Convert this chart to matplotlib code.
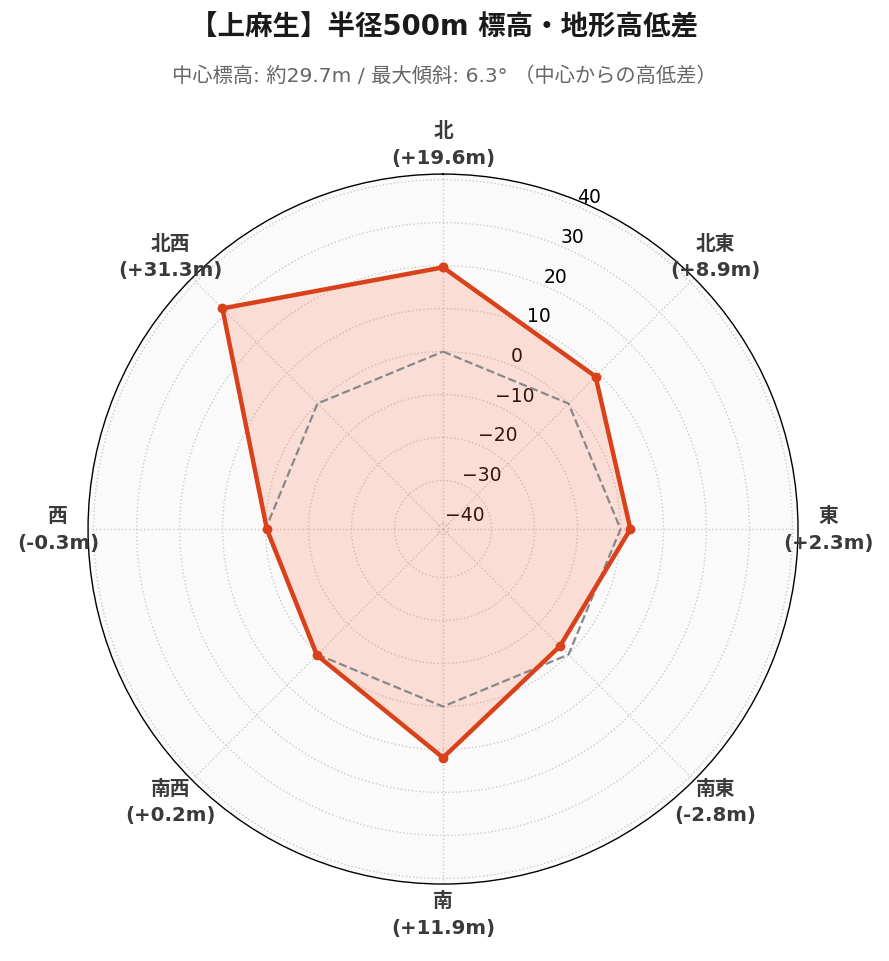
import numpy as np
import matplotlib.pyplot as plt

plt.rcParams['font.family'] = ['DejaVu Sans', 'Noto Sans CJK JP']

# Data
directions = ['北', '北東', '東', '南東', '南', '南西', '西', '北西']
diffs = [19.6, 8.9, 2.3, -2.8, 11.9, 0.2, -0.3, 31.3]
r_ticks = [-40, -30, -20, -10, 0, 10, 20, 30, 40]

title = '【上麻生】半径500m 標高・地形高低差'
subtitle = '中心標高: 約29.7m / 最大傾斜: 6.3° （中心からの高低差）'

lim = max(abs(v) for v in diffs) + 10
rmin, rmax = -lim, lim

theta = np.deg2rad(np.arange(len(directions)) * 45)
theta_c = np.append(theta, theta[0])
vals_c = np.append(diffs, diffs[0])
zero_c = np.zeros_like(theta_c)

fig = plt.figure(figsize=(8.89, 9.62), dpi=100)
ax = fig.add_axes([0.099, 0.080, 0.7987, 0.738], projection='polar')
ax.set_theta_zero_location('N')
ax.set_theta_direction(-1)
ax.set_facecolor('#fafafa')
ax.set_ylim(rmin, rmax)

red = '#d9411a'
ax.fill(theta_c, vals_c, color='#ff6a45', alpha=0.2, lw=0, zorder=2)
ax.plot(theta_c, zero_c, color='#888888', ls='--', lw=1.6, zorder=3)
ax.plot(theta_c, vals_c, color=red, lw=3.2, marker='o', ms=6, zorder=4)

ax.set_xticks(theta)
ax.set_xticklabels([])
ax.set_yticks(r_ticks)
ax.set_yticklabels([str(t).replace('-', '\u2212') for t in r_ticks],
                   fontsize=13.5)
ax.set_rlabel_position(22.5)
ax.grid(True, color='#cccccc', ls=':', lw=1.0)
ax.spines['polar'].set_color('black')
ax.spines['polar'].set_linewidth(1.0)

# direction labels with the height difference
r_lab = rmin + (rmax - rmin) * 1.085
for t, d, v in zip(theta, directions, diffs):
    ax.text(t, r_lab, f'{d}\n({v:+.1f}m)', ha='center', va='center',
            fontsize=14.2, fontweight='bold', color='#3a3a3a',
            linespacing=1.5, clip_on=False)

fig.text(0.5, 0.971, title, ha='center', va='center', fontsize=19.8,
         fontweight='bold', color='#1a1a1a')
fig.text(0.5, 0.921, subtitle, ha='center', va='center', fontsize=14.6,
         color='#666666')

fig.savefig('out.png', dpi=100)
